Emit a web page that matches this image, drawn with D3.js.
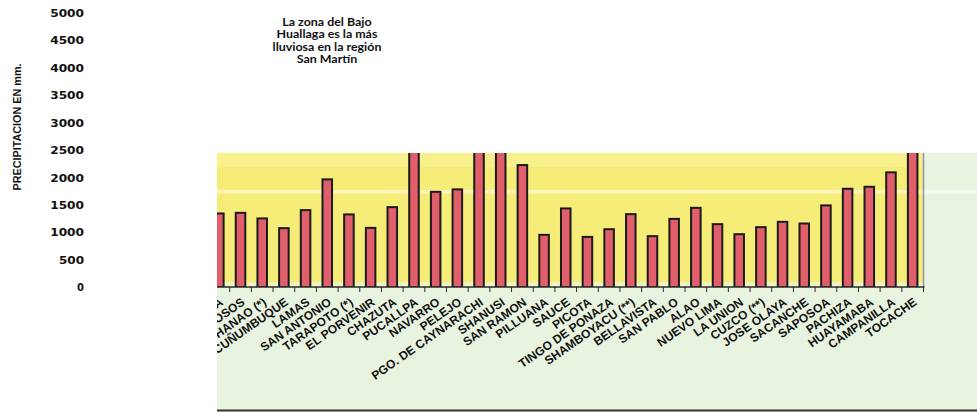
<!DOCTYPE html>
<html>
<head>
<meta charset="utf-8">
<script src="https://cdn.jsdelivr.net/npm/d3@7"></script>
<style>
  html, body { margin: 0; padding: 0; background: #ffffff; }
  svg { display: block; }
</style>
</head>
<body>
<svg id="chart" width="977" height="412"></svg>
<script>
// ---- data ----
const categories = ["RIOJA", "TABALOSOS", "SHANAO (*)", "CUÑUMBUQUE", "LAMAS", "SAN ANTONIO",
  "TARAPOTO (*)", "EL PORVENIR", "CHAZUTA", "PUCALLPA", "NAVARRO", "PELEJO",
  "PGO. DE CAYNARACHI", "SHANUSI", "SAN RAMON", "PILLUANA", "SAUCE", "PICOTA",
  "TINGO DE PONAZA", "SHAMBOYACU (**)", "BELLAVISTA", "SAN PABLO", "ALAO", "NUEVO LIMA",
  "LA UNION", "CUZCO (**)", "JOSE OLAYA", "SACANCHE", "SAPOSOA", "PACHIZA",
  "HUAYAMABA", "CAMPANILLA", "TOCACHE"];
const precipitation = [1345, 1356, 1254, 1077, 1405, 1965,
  1327, 1082, 1460, 3000, 1739, 1783,
  3800, 4100, 2226, 955, 1436, 918,
  1058, 1332, 931, 1246, 1447, 1150,
  967, 1095, 1192, 1162, 1491, 1794,
  1830, 2093, 2900];
const yTicks = [0, 500, 1000, 1500, 2000, 2500, 3000, 3500, 4000, 4500, 5000];
const titleLines = ["La zona del Bajo", "Huallaga es la más", "lluviosa en la región", "San Martín"];
const yAxisTitle = "PRECIPITACION EN mm.";

// ---- layout ----
const svg = d3.select("#chart");
const clipLeft = 217, plotRight = 923.5, plotTop = 153, baseY = 287;

const x = d3.scaleBand().domain(categories).range([208, 923.5])
  .paddingInner(0.56).paddingOuter(0.28);
const y = d3.scaleLinear().domain([0, 5000]).range([287.3, 12.7]);
const step = x.step();

svg.append("defs").append("clipPath").attr("id", "areaClip")
  .append("rect").attr("x", clipLeft).attr("y", 0).attr("width", 977 - clipLeft).attr("height", 412);
svg.select("defs").append("clipPath").attr("id", "plotClip")
  .append("rect").attr("x", clipLeft).attr("y", plotTop).attr("width", plotRight - clipLeft).attr("height", baseY - plotTop);

const g = svg.append("g").attr("clip-path", "url(#areaClip)");

// light green backdrop
g.append("rect").attr("x", clipLeft).attr("y", plotTop).attr("width", 977 - clipLeft).attr("height", 410 - plotTop)
  .attr("fill", "#e9f4e0");
// yellow plot area
g.append("rect").attr("x", clipLeft).attr("y", plotTop).attr("width", plotRight - clipLeft).attr("height", baseY - plotTop)
  .attr("fill", "#f6ed78");
g.append("rect").attr("x", clipLeft).attr("y", plotTop).attr("width", plotRight - clipLeft).attr("height", 14)
  .attr("fill", "#f8f29a").attr("opacity", 0.6);
g.append("rect").attr("x", clipLeft).attr("y", baseY - 5).attr("width", plotRight - clipLeft).attr("height", 5)
  .attr("fill", "#eef3c0");
// whitish stripe
g.append("rect").attr("x", clipLeft).attr("y", 190).attr("width", 977 - clipLeft).attr("height", 3.5)
  .attr("fill", "#ffffff").attr("opacity", 0.5);

// bars
g.append("g").attr("clip-path", "url(#plotClip)")
  .selectAll("rect").data(categories).join("rect")
  .attr("x", d => x(d))
  .attr("y", (d, i) => y(precipitation[i]))
  .attr("width", x.bandwidth())
  .attr("height", (d, i) => y(0) - y(precipitation[i]))
  .attr("fill", "#e05f6a")
  .attr("stroke", "#1b1b1b")
  .attr("stroke-width", 2);

// right border line
g.append("line").attr("x1", plotRight).attr("x2", plotRight).attr("y1", plotTop).attr("y2", baseY)
  .attr("stroke", "#8d91b3").attr("stroke-width", 1.5);

// x axis line and ticks at band boundaries
g.append("line").attr("x1", clipLeft).attr("x2", plotRight + 1).attr("y1", baseY).attr("y2", baseY)
  .attr("stroke", "#2a2a2a").attr("stroke-width", 1.5);
const bounds = categories.map(d => x(d) + x.bandwidth() / 2 + step / 2);
g.append("g").selectAll("line").data(bounds).join("line")
  .attr("x1", d => d).attr("x2", d => d).attr("y1", baseY).attr("y2", baseY + 5)
  .attr("stroke", "#2a2a2a").attr("stroke-width", 1);

// x labels
g.append("g").selectAll("text").data(categories).join("text")
  .attr("transform", d => `translate(${x(d) + x.bandwidth() / 2 + 5},${304}) rotate(-35)`)
  .attr("text-anchor", "end")
  .attr("font-family", "Liberation Sans, Arial, sans-serif")
  .attr("font-weight", "bold")
  .attr("font-size", 12)
  .attr("fill", "#111")
  .text(d => d);

// bottom line
g.append("line").attr("x1", clipLeft).attr("x2", 977).attr("y1", 410.5).attr("y2", 410.5)
  .attr("stroke", "#333").attr("stroke-width", 2);

// y axis (labels only)
const yAxis = svg.append("g").attr("transform", "translate(84,0)")
  .call(d3.axisLeft(y).tickValues(yTicks).tickSize(0).tickPadding(0).tickFormat(d3.format("d")));
yAxis.select(".domain").remove();
yAxis.selectAll("text")
  .attr("font-family", "DejaVu Sans, sans-serif")
  .attr("font-weight", "bold")
  .attr("font-size", 10)
  .attr("fill", "#111")
  .attr("dy", "0.36em")
  .each(function(d) {
    const s = String(d);
    if (s.length > 1) d3.select(this).attr("textLength", s.length * 8.7 - 1).attr("lengthAdjust", "spacingAndGlyphs");
  });

// y axis title
svg.append("text")
  .attr("transform", "translate(21,127) rotate(-90)")
  .attr("text-anchor", "middle")
  .attr("font-family", "Liberation Sans, Arial, sans-serif")
  .attr("font-weight", "bold")
  .attr("font-size", 10.5)
  .attr("textLength", 127)
  .attr("lengthAdjust", "spacingAndGlyphs")
  .attr("fill", "#111")
  .text(yAxisTitle);

// annotation title
svg.append("g").selectAll("text").data(titleLines).join("text")
  .attr("x", 327)
  .attr("y", (d, i) => 26 + i * 12.3)
  .attr("text-anchor", "middle")
  .attr("font-family", "Lato, Open Sans, sans-serif")
  .attr("font-weight", "bold")
  .attr("font-size", 11.2)
  .attr("fill", "#111")
  .text(d => d)
  .each(function() {
    const len = this.getComputedTextLength();
    d3.select(this).attr("textLength", len * 1.11).attr("lengthAdjust", "spacingAndGlyphs");
  });
</script>
</body>
</html>
